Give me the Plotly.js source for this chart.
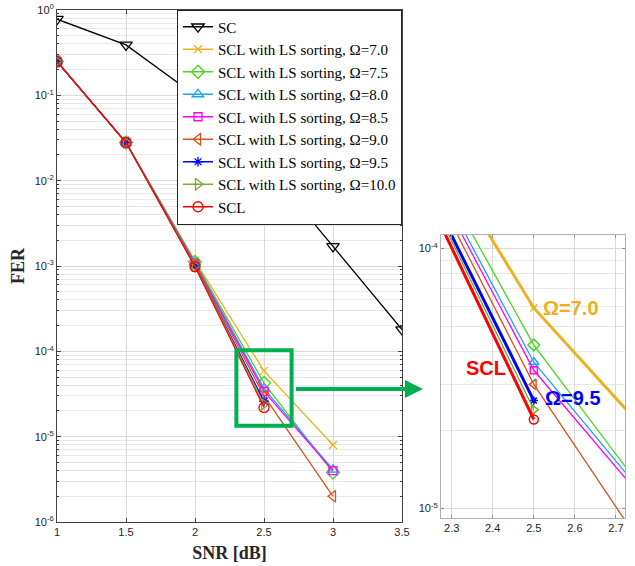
<!DOCTYPE html>
<html><head><meta charset="utf-8">
<script src="https://cdn.plot.ly/plotly-3.0.1.min.js"></script>
<style>html,body{margin:0;padding:0;background:#fff}#chart{width:635px;height:566px}</style>
</head><body><div id="chart"></div>
<script>
// ---- data ----
const snr = [1, 1.5, 2, 2.5, 3, 3.5];
const ferSC      = [0.78, 0.39, 0.1, 0.016, 1.7e-3, 1.8e-4];
const ferLS70    = [0.25, 0.028, 1.15e-3, 5.9e-5, 8.0e-6];
const ferLS75    = [0.25, 0.028, 1.12e-3, 4.25e-5, 3.8e-6];
const ferLS80    = [0.25, 0.028, 1.10e-3, 3.65e-5, 4.1e-6];
const ferLS85    = [0.25, 0.028, 1.05e-3, 3.4e-5, 4.0e-6];
const ferLS90    = [0.25, 0.028, 1.05e-3, 3.0e-5, 2.0e-6];
const ferLS95    = [0.25, 0.028, 1.00e-3, 2.6e-5];
const ferLS100   = [0.25, 0.028, 1.00e-3, 2.4e-5];
const ferSCL     = [0.25, 0.028, 0.98e-3, 2.2e-5];

const names = ['SC',
  'SCL with LS sorting, Ω=7.0', 'SCL with LS sorting, Ω=7.5', 'SCL with LS sorting, Ω=8.0',
  'SCL with LS sorting, Ω=8.5', 'SCL with LS sorting, Ω=9.0', 'SCL with LS sorting, Ω=9.5',
  'SCL with LS sorting, Ω=10.0', 'SCL'];
const yTickVals = [1e-6, 1e-5, 1e-4, 1e-3, 1e-2, 1e-1, 1];
const yTickText = ['10<sup>-6</sup>','10<sup>-5</sup>','10<sup>-4</sup>','10<sup>-3</sup>','10<sup>-2</sup>','10<sup>-1</sup>','10<sup>0</sup>'];
const insetXTickVals = [2.3, 2.4, 2.5, 2.6, 2.7];
const insetYTickVals = [1e-5, 1e-4];
const insetYTickText = ['10<sup>-5</sup>','10<sup>-4</sup>'];
const annoText = ['Ω=7.0', 'Ω=9.5', 'SCL'];

// ---- styles ----
const series = [ferSC, ferLS70, ferLS75, ferLS80, ferLS85, ferLS90, ferLS95, ferLS100, ferSCL];
const colors = ['#000000','#EDB120','#47D61F','#1FA0F5','#FF00FF','#D95319','#0000FF','#77AC30','#FF0000'];
const symbols = ['triangle-down-open','x-thin-open','diamond-open','triangle-up-open','square-open',
  'triangle-left-open','asterisk-open','triangle-right-open','circle-open'];
const sizes = [11, 8, 10, 10, 8, 10, 8, 10, 10];
const insetWidths = [1.3, 3, 1.3, 1.3, 1.3, 1.3, 3, 1.3, 3];

const minorMain = [];
for (let d = -6; d < 0; d++) for (let k = 2; k <= 9; k++) minorMain.push(k * Math.pow(10, d));

const traces = [];
series.forEach((ys, i) => {
  traces.push({
    x: snr.slice(0, ys.length), y: ys, name: names[i], type: 'scatter', mode: 'lines+markers',
    line: {color: colors[i], width: 1.3},
    marker: {symbol: symbols[i], size: sizes[i], color: colors[i], line: {color: colors[i], width: 1.3}},
    xaxis: 'x', yaxis: 'y'
  });
});
series.forEach((ys, i) => {
  if (i === 0) return;
  traces.push({
    x: snr.slice(0, ys.length), y: ys, name: names[i], type: 'scatter', mode: 'lines+markers',
    showlegend: false,
    line: {color: colors[i], width: insetWidths[i]},
    marker: {symbol: symbols[i], size: sizes[i] - 1, color: colors[i], line: {color: colors[i], width: 1.5}},
    xaxis: 'x2', yaxis: 'y2'
  });
});

const tickFont = {family: 'Liberation Sans, Arial, sans-serif', size: 11, color: '#262626'};
const titleFont = {family: 'Liberation Serif, Times New Roman, serif', size: 18, color: '#262626'};

const layout = {
  width: 635, height: 566,
  margin: {l: 0, r: 0, t: 0, b: 0},
  paper_bgcolor: '#fff', plot_bgcolor: '#fff',
  showlegend: true,
  legend: {
    x: 402/635, xanchor: 'right', y: 1 - 9.5/566, yanchor: 'top',
    bgcolor: '#fff', bordercolor: '#262626', borderwidth: 1,
    font: {family: 'Liberation Serif, Times New Roman, serif', size: 15, color: '#000'},
    tracegroupgap: 0, itemwidth: 30
  },
  xaxis: {
    domain: [57/635, 402/635], range: [1, 3.5], tickvals: snr, ticktext: snr.map(String),
    showgrid: true, gridcolor: '#d9d9d9', gridwidth: 1, zeroline: false,
    showline: true, mirror: 'ticks', linecolor: '#404040', linewidth: 1,
    ticks: 'inside', ticklen: 4, tickcolor: '#404040', tickfont: tickFont,
    title: {text: '<b>SNR [dB]</b>', font: titleFont, standoff: 9},
    anchor: 'y'
  },
  yaxis: {
    domain: [1 - 522/566, 1 - 10/566], type: 'log', range: [-6, 0],
    tickmode: 'array', tickvals: yTickVals, ticktext: yTickText,
    showgrid: true, gridcolor: '#d9d9d9', gridwidth: 1, zeroline: false,
    showline: true, mirror: 'ticks', linecolor: '#404040', linewidth: 1,
    ticks: 'inside', ticklen: 4, tickcolor: '#404040', tickfont: tickFont,
    minor: {tickmode: 'array', tickvals: minorMain, showgrid: true, gridcolor: '#e8e8e8', ticks: 'inside', ticklen: 2, tickcolor: '#404040'},
    title: {text: '<b>FER</b>', font: titleFont, standoff: 5},
    anchor: 'x'
  },
  xaxis2: {
    domain: [441/635, 625/635], range: [2.274, 2.722], tickvals: insetXTickVals,
    showgrid: true, gridcolor: '#d9d9d9', zeroline: false,
    showline: true, mirror: 'ticks', linecolor: '#b0b0b0', linewidth: 1,
    ticks: 'inside', ticklen: 3, tickcolor: '#909090', tickfont: tickFont,
    anchor: 'y2'
  },
  yaxis2: {
    domain: [1 - 518/566, 1 - 235/566], type: 'log', range: [-5.036, -3.949],
    tickmode: 'array', tickvals: insetYTickVals, ticktext: insetYTickText,
    showgrid: true, gridcolor: '#d9d9d9', zeroline: false,
    showline: true, mirror: 'ticks', linecolor: '#b0b0b0', linewidth: 1,
    ticks: 'inside', ticklen: 3, tickcolor: '#909090', tickfont: tickFont,
    minor: {tickmode: 'array', tickvals: minorMain, showgrid: true, gridcolor: '#e8e8e8', ticks: ''},
    anchor: 'x2'
  },
  shapes: [{
    type: 'rect', xref: 'x', yref: 'y', x0: 2.3, x1: 2.7, y0: 1.34e-5, y1: 1.03e-4,
    line: {color: '#00B050', width: 4}, fillcolor: 'rgba(0,0,0,0)'
  }],
  annotations: [
    {xref: 'paper', yref: 'paper', x: 423/635, y: 1 - 389/566, ax: -130, ay: 0, text: ' ',
     showarrow: true, arrowhead: 2, arrowsize: 0.9, arrowwidth: 4, arrowcolor: '#00B050', standoff: 0},
    {xref: 'x2', yref: 'y2', x: 2.518, y: Math.log10(ferLS70[3]), text: '<b>' + annoText[0] + '</b>',
     showarrow: false, xanchor: 'left', yanchor: 'middle', font: {family: 'Liberation Sans, Arial', size: 20, color: '#EDB120'}},
    {xref: 'x2', yref: 'y2', x: 2.522, y: -4.576, text: '<b>' + annoText[1] + '</b>',
     showarrow: false, xanchor: 'left', yanchor: 'middle', font: {family: 'Liberation Sans, Arial', size: 20, color: '#0000FF'}},
    {xref: 'x2', yref: 'y2', x: 2.383, y: -4.4615, text: '<b>' + annoText[2] + '</b>',
     showarrow: false, xanchor: 'center', yanchor: 'middle', font: {family: 'Liberation Sans, Arial', size: 20, color: '#FF0000'}}
  ]
};

Plotly.newPlot('chart', traces, layout, {displayModeBar: false, staticPlot: true});
</script></body></html>
